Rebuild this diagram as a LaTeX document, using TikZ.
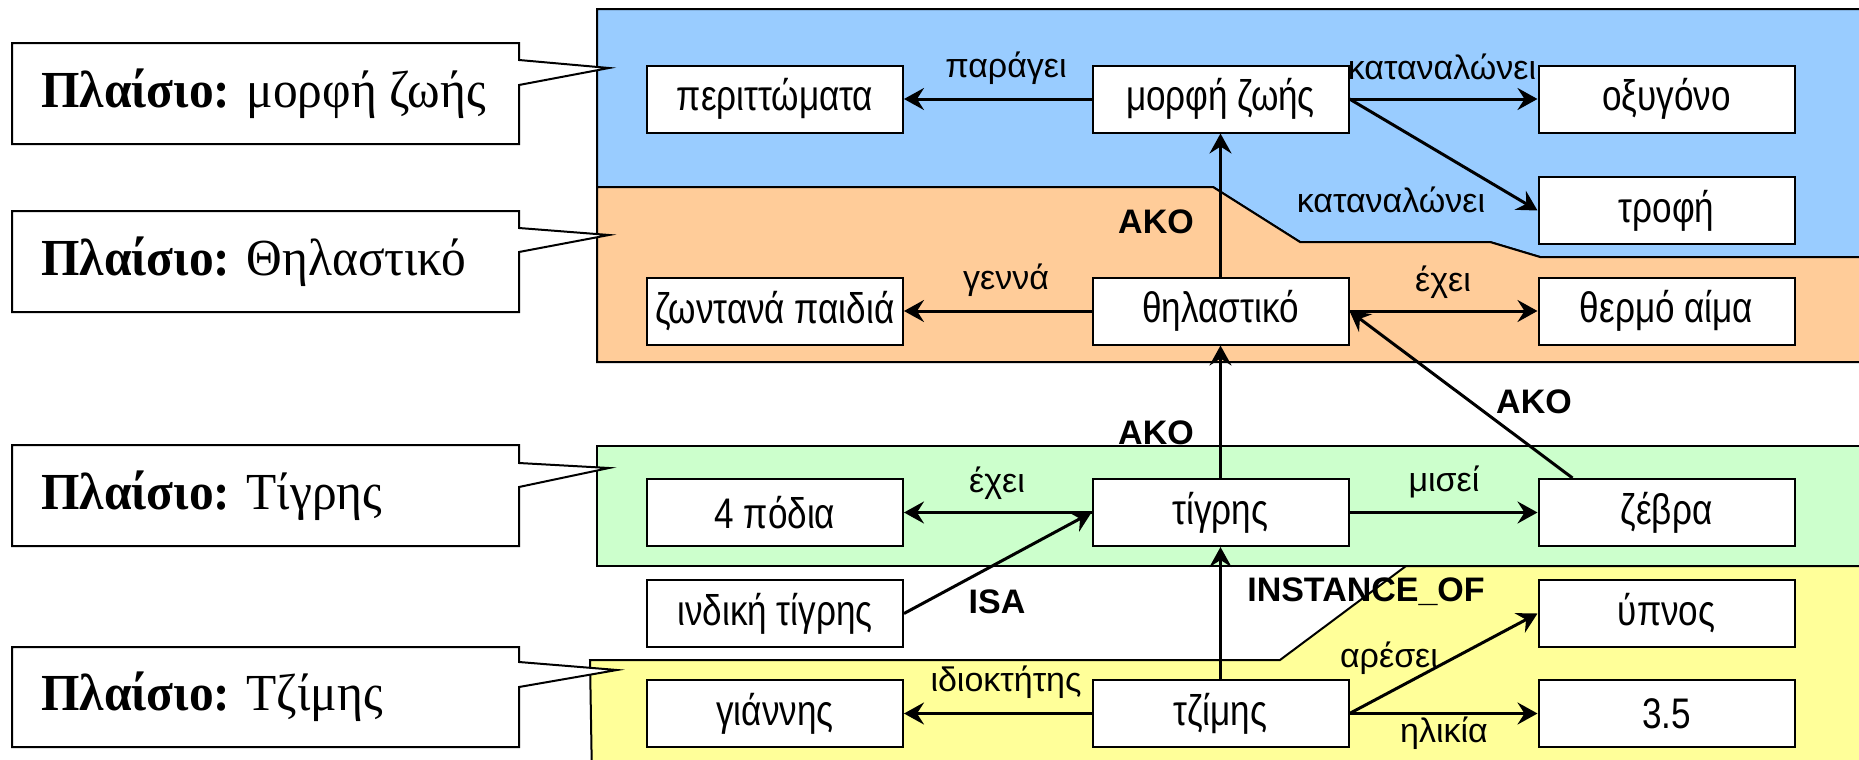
\documentclass[tikz,border=0pt]{standalone}
\usepackage{fontspec}
\setmainfont{Liberation Serif}
\newfontfamily\lsans{Liberation Sans}
\newfontfamily\lsanstall[FakeStretch=0.82]{Liberation Sans}
\newfontfamily\lseriftall[FakeStretch=0.95]{Liberation Serif}
\usetikzlibrary{arrows.meta}
\definecolor{regblue}{HTML}{99CCFF}
\definecolor{regorange}{HTML}{FFCC99}
\definecolor{reggreen}{HTML}{CCFFCC}
\definecolor{regyellow}{HTML}{FFFF99}

\begin{document}
\begin{tikzpicture}[x=0.5pt,y=-0.5pt,
  frame/.style={draw=black, line width=1pt, line join=miter},
  concept/.style={draw=black, fill=white, line width=1pt, minimum width=128pt,
    minimum height=33.5pt, inner sep=0pt, font=\lsanstall\fontsize{21.4}{24}\selectfont},
  rel/.style={font=\lsans\fontsize{17}{20}\selectfont, inner sep=0pt},
  kind/.style={font=\lsans\bfseries\fontsize{17}{20}\selectfont, inner sep=0pt},
  link/.style={line width=1.5pt, -{Stealth[length=10pt,width=11pt,inset=3.5pt]}},
  balloon/.style={draw=black, fill=white, line width=1pt, line join=miter},
  caption/.style={font=\lseriftall\fontsize{26}{30}\selectfont, anchor=west, inner sep=0pt}
]
\useasboundingbox (0,0) rectangle (1859,760);
\clip (0,0) rectangle (1859,760);

% frame regions
\path[frame, fill=regblue] (597,9) -- (1880,9) -- (1880,257) -- (1540,257) -- (1490,242)
  -- (1300,242) -- (1213,187) -- (597,187) -- cycle;
\path[frame, fill=regorange] (597,187) -- (1213,187) -- (1300,242) -- (1490,242) -- (1540,257)
  -- (1880,257) -- (1880,362) -- (597,362) -- cycle;
\path[frame, fill=reggreen] (597,446) rectangle (1880,566);
\path[frame, fill=regyellow] (592,780) -- (590,660) -- (1280,660) -- (1406,566) -- (1880,566)
  -- (1880,780) -- cycle;

% concepts
\node[concept] (waste)  at (775,99)      {περιττώματα};
\node[concept] (life)   at (1220.5,99)   {μορφή ζωής};
\node[concept] (oxygen) at (1666.5,99)   {οξυγόνο};
\node[concept] (food)   at (1666.5,210.5){τροφή};
\node[concept] (young)  at (775,311)     {ζωντανά παιδιά};
\node[concept] (mammal) at (1220.5,311)  {θηλαστικό};
\node[concept] (blood)  at (1666.5,311)  {θερμό αίμα};
\node[concept] (legs)   at (775,512.5)   {4 πόδια};
\node[concept] (tiger)  at (1220.5,512.5){τίγρης};
\node[concept] (zebra)  at (1666.5,512.5){ζέβρα};
\node[concept] (bengal) at (775,613.5)   {ινδική τίγρης};
\node[concept] (sleep)  at (1666.5,613.5){ύπνος};
\node[concept] (john)   at (775,713.5)   {γιάννης};
\node[concept] (jim)    at (1220.5,713.5){τζίμης};
\node[concept] (age)    at (1666.5,713.5){3.5};

% relations
\draw[link] (life) -- (waste);
\draw[link] (life) -- (oxygen);
\draw[link] (life.east) -- (food.west);
\draw[link] (mammal) -- (life);
\draw[link] (mammal) -- (young);
\draw[link] (mammal) -- (blood);
\draw[link] (tiger) -- (mammal);
\draw[link] ([xshift=17.5pt]zebra.north west) -- (mammal.east);
\draw[link] (tiger) -- (legs);
\draw[link] (tiger) -- (zebra);
\draw[link] (bengal.east) -- (tiger.west);
\draw[link] (jim) -- (tiger);
\draw[link] (jim) -- (john);
\draw[link] (jim.east) -- (sleep.west);
\draw[link] (jim) -- (age);

% relation labels
\node[rel]  (l1)  at (1006,68)   {παράγει};
\node[rel]  (l2)  at (1442,67)   {καταναλώνει};
\node[rel]  (l3)  at (1391,200)  {καταναλώνει};
\node[kind] (l4)  at (1156,222)  {AKO};
\node[rel]  (l5)  at (1006,280)  {γεννά};
\node[rel]  (l6)  at (1443,282)  {έχει};
\node[kind] (l7)  at (1156,433)  {AKO};
\node[kind] (l8)  at (1534,402)  {AKO};
\node[rel]  (l9)  at (997,483)   {έχει};
\node[rel]  (l10) at (1444,482)  {μισεί};
\node[kind] (l11) at (997,602)   {ISA};
\node[kind] (l12) at (1366,592)  {INSTANCE\_OF};
\node[rel]  (l13) at (1006,682)  {ιδιοκτήτης};
\node[rel]  (l14) at (1389,658)  {αρέσει};
\node[rel]  (l15) at (1444,733)  {ηλικία};

% frame captions
\path[balloon] (12,43) -- (519,43) -- (519,60) -- (609,68) -- (519,85) -- (519,144) -- (12,144) -- cycle;
\node[caption] (c1) at (41,93.5) {\textbf{Πλαίσιο:} μορφή ζωής};
\path[balloon] (12,211) -- (519,211) -- (519,228) -- (609,235) -- (519,252) -- (519,312) -- (12,312) -- cycle;
\node[caption] (c2) at (41,261.5) {\textbf{Πλαίσιο:} Θηλαστικό};
\path[balloon] (12,445) -- (519,445) -- (519,463) -- (609,468) -- (519,487) -- (519,546) -- (12,546) -- cycle;
\node[caption] (c3) at (41,495.5) {\textbf{Πλαίσιο:} Τίγρης};
\path[balloon] (12,647) -- (519,647) -- (519,662) -- (617,670) -- (519,687) -- (519,747) -- (12,747) -- cycle;
\node[caption] (c4) at (41,697) {\textbf{Πλαίσιο:} Τζίμης};
\end{tikzpicture}
\end{document}
